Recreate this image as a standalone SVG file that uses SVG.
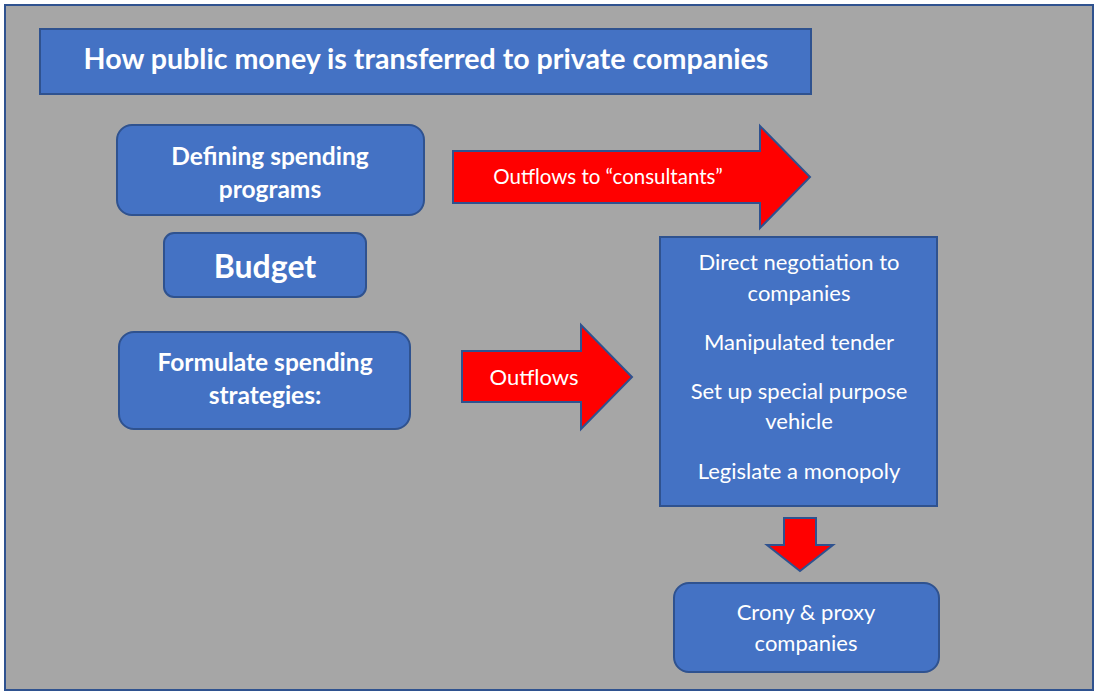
<svg xmlns="http://www.w3.org/2000/svg" width="1099" height="696" viewBox="0 0 1099 696">
<style>
.box{fill:#4472C4;stroke:#2F528F;stroke-width:2}
.arr{fill:#FF0000;stroke:#2F528F;stroke-width:2;stroke-linejoin:miter}
text{font-family:Lato,"Noto Sans","Liberation Sans",sans-serif;fill:#FFFFFF;text-anchor:middle;dominant-baseline:central}
.b{font-weight:bold;font-size:24.5px}
.n{font-size:22px}
</style>
<rect x="5" y="5" width="1088" height="685" fill="#A6A6A6" stroke="#2F528F" stroke-width="2"/>
<g id="title"><rect class="box" x="40" y="29" width="771" height="65"/><text x="426" y="57.5" font-size="28.6" font-weight="bold">How public money is transferred to private companies</text></g>
<g id="defining"><rect class="box" x="117" y="125" width="307" height="90" rx="15"/><text class="b" x="270" y="155.5">Defining spending</text><text class="b" x="270" y="188.5">programs</text></g>
<g id="budget"><rect class="box" x="164" y="233" width="202" height="64" rx="10"/><text x="265" y="265.5" font-size="32" font-weight="bold">Budget</text></g>
<g id="formulate"><rect class="box" x="119" y="332" width="291" height="97" rx="15"/><text class="b" x="265" y="361.5">Formulate spending</text><text class="b" x="265" y="394.5">strategies:</text></g>
<g id="methods"><rect class="box" x="660" y="237" width="277" height="269"/>
<text class="n" x="799" y="261">Direct negotiation to</text><text class="n" x="799" y="292">companies</text>
<text class="n" x="799" y="341">Manipulated tender</text>
<text class="n" x="799" y="390">Set up special purpose</text><text class="n" x="799" y="420">vehicle</text>
<text class="n" x="799" y="470">Legislate a monopoly</text></g>
<g id="crony"><rect class="box" x="674" y="583" width="265" height="89" rx="15"/><text class="n" x="806" y="611">Crony &amp; proxy</text><text class="n" x="806" y="642">companies</text></g>
<g id="connectors">
<g id="arrow-consultants"><polygon class="arr" points="453,151 760,151 760,126 810,177 760,228 760,203 453,203"/><text x="608" y="176" font-size="20.5">Outflows to “consultants”</text></g>
<g id="arrow-outflows"><polygon class="arr" points="462,351 581,351 581,325 632,377 581,429 581,402 462,402"/><text class="n" x="534" y="376">Outflows</text></g>
<g id="arrow-down"><polygon class="arr" points="784,518 816,518 816,545 833,545 800,571 767,545 784,545"/></g>
</g>
</svg>
